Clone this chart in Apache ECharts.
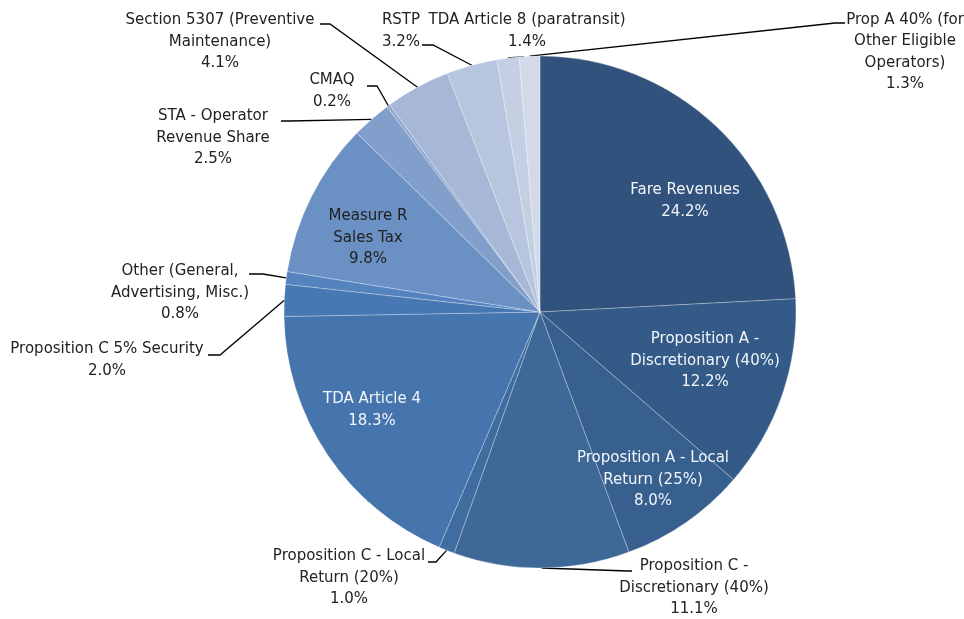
<!DOCTYPE html>
<html>
<head>
<meta charset="utf-8">
<script src="https://cdn.jsdelivr.net/npm/echarts@6/dist/echarts.min.js"></script>
<style>
  html, body { margin: 0; padding: 0; background: #fff; }
  #main { width: 964px; height: 619px; }
</style>
</head>
<body>
<div id="main"></div>
<script>
  // revenue sources, clockwise from 12 o'clock
  var sources = [
    'Fare Revenues',
    'Proposition A -\nDiscretionary (40%)',
    'Proposition A - Local\nReturn (25%)',
    'Proposition C -\nDiscretionary (40%)',
    'Proposition C - Local\nReturn (20%)',
    'TDA Article 4',
    'Proposition C 5% Security',
    'Other (General,\nAdvertising, Misc.)',
    'Measure R\nSales Tax',
    'STA - Operator\nRevenue Share',
    'CMAQ',
    'Section 5307 (Preventive\nMaintenance)',
    'RSTP',
    'TDA Article 8 (paratransit)',
    'Prop A 40% (for\nOther Eligible\nOperators)'
  ];
  var shares = [24.2, 12.2, 8.0, 11.1, 1.0, 18.3, 2.0, 0.8, 9.8, 2.5, 0.2, 4.1, 3.2, 1.4, 1.3];

  var sliceColors = [
    '#31527c', '#345a87', '#38608f', '#3d6898', '#406da0', '#4675ae', '#4878b3',
    '#5483c0', '#6b90c4', '#829fcb', '#90aacf', '#a7b8d6', '#b7c5de', '#c4cfe4', '#d2daea'
  ];

  // label anchor per slice (centre of text block) and leader line bend/end
  var labelSpots = [
    { x: 685, y: 201, inside: true },
    { x: 705, y: 361, inside: true },
    { x: 653, y: 480, inside: true },
    { x: 694, y: 588, line: [[628, 571], [632, 571]] },
    { x: 349, y: 578, line: [[436, 562], [428, 562]] },
    { x: 372, y: 410, inside: true },
    { x: 107, y: 360, line: [[220, 355], [208, 355]] },
    { x: 180, y: 293, line: [[263, 274], [249, 274]] },
    { x: 368, y: 238, inside: true, dark: true },
    { x: 213, y: 138, line: [[290, 121], [281, 121]] },
    { x: 332, y: 91, line: [[377, 86], [367, 86]] },
    { x: 220, y: 42, line: [[330, 24], [320, 24]] },
    { x: 401, y: 31, line: [[433, 45], [422, 45]] },
    { x: 527, y: 31, line: [[522, 57], [524, 57]] },
    { x: 905, y: 52, line: [[835, 23], [845, 23]] }
  ];

  var chart = echarts.init(document.getElementById('main'));

  var pieData = sources.map(function (name, i) {
    var spot = labelSpots[i];
    var item = { name: name, value: shares[i], itemStyle: { color: sliceColors[i] } };
    if (spot.inside) {
      item.label = { position: 'inside', color: spot.dark ? '#222' : '#f2f5fa' };
    }
    return item;
  });

  chart.setOption({
    animation: false,
    backgroundColor: '#ffffff',
    series: [{
      type: 'pie',
      center: [540, 312],
      radius: 256,
      startAngle: 90,
      clockwise: true,
      avoidLabelOverlap: false,
      itemStyle: { borderColor: 'rgba(255,255,255,0.45)', borderWidth: 0.6 },
      label: {
        show: true,
        position: 'outside',
        fontFamily: 'DejaVu Sans',
        fontSize: 15,
        lineHeight: 21.5,
        color: '#222',
        align: 'center',
        formatter: function (p) {
          return p.name + '\n' + p.value.toFixed(1) + '%';
        }
      },
      labelLine: { show: true, lineStyle: { color: '#000', width: 1.3 } },
      labelLayout: function (p) {
        var s = labelSpots[p.dataIndex];
        var out = { x: s.x, y: s.y, align: 'center', verticalAlign: 'middle' };
        if (s.line && p.labelLinePoints) {
          out.labelLinePoints = [p.labelLinePoints[0], s.line[0], s.line[1]];
        }
        return out;
      },
      data: pieData
    }]
  });
</script>
</body>
</html>
